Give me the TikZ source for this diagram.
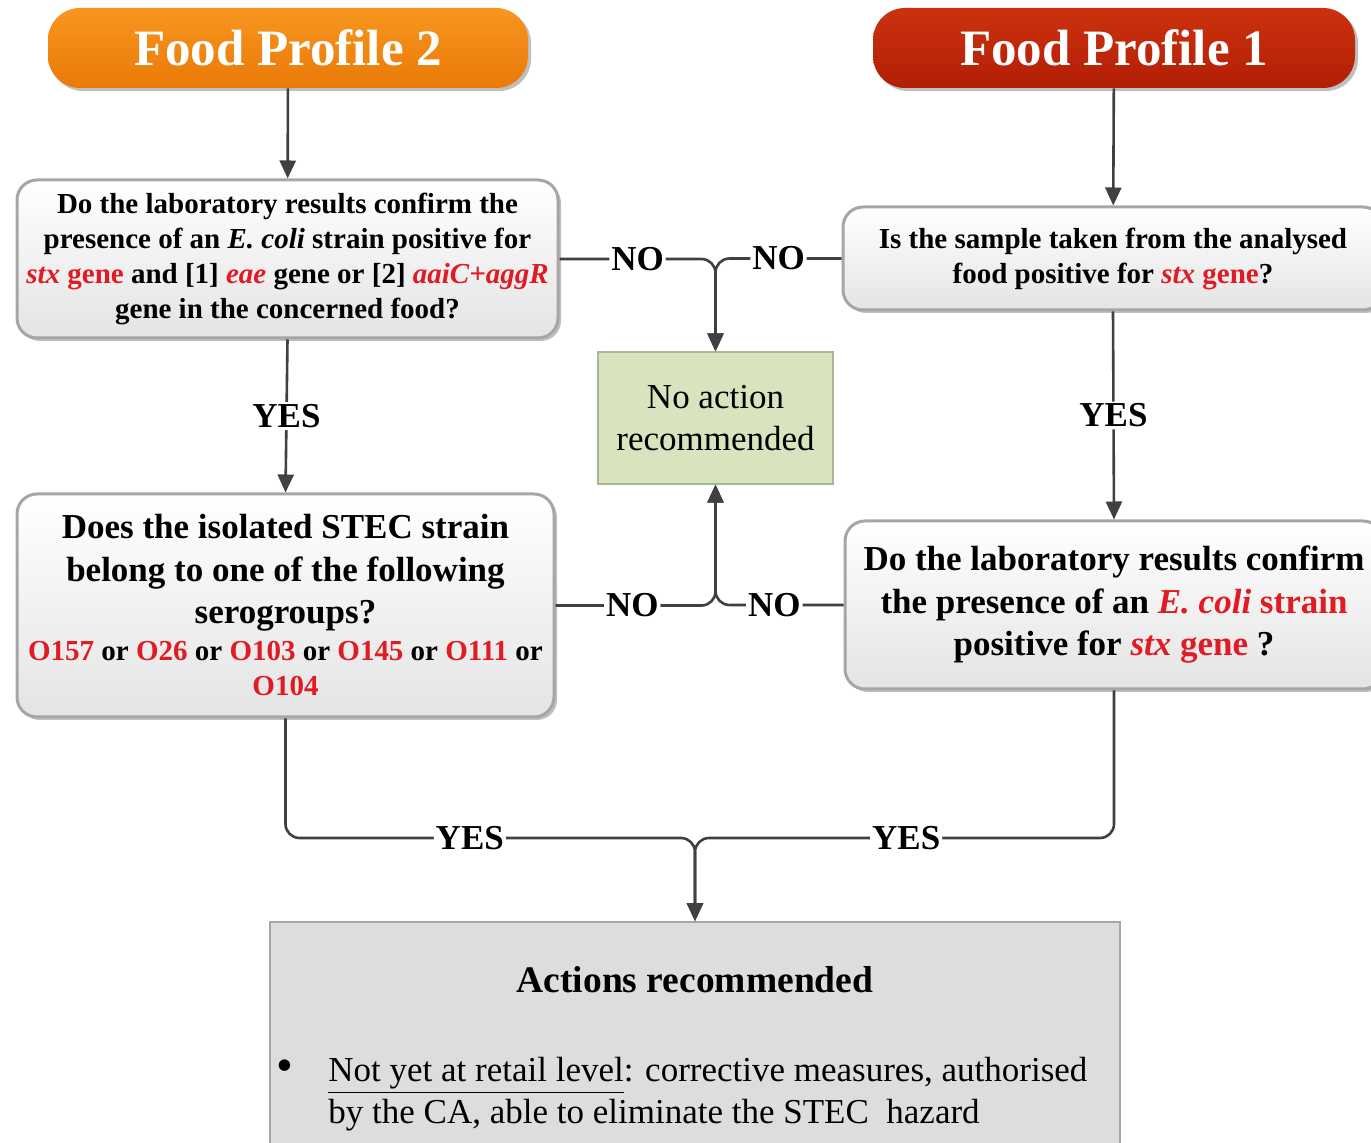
\documentclass[tikz,border=0pt]{standalone}
\usepackage{fontspec}
\setmainfont{Liberation Serif}
\usetikzlibrary{arrows.meta, shadows}

\definecolor{genered}{HTML}{E01B24}
\definecolor{linegray}{HTML}{404040}
\definecolor{boxgray}{HTML}{A6A6A6}
\definecolor{boxbottom}{HTML}{E4E4E4}
\definecolor{orangetop}{HTML}{F7961E}
\definecolor{orangebottom}{HTML}{EA7A08}
\definecolor{redtop}{HTML}{CC320E}
\definecolor{redbottom}{HTML}{B21E06}
\definecolor{noactfill}{HTML}{D8E4BD}
\definecolor{noactdraw}{HTML}{A8B894}
\definecolor{actfill}{HTML}{DDDDDD}

\newcommand{\redtxt}[1]{\textcolor{genered}{#1}}
\newcommand{\smallbf}{\fontsize{14.5}{17.5}\selectfont\bfseries}
\newcommand{\bigbf}{\fontsize{17.5}{21.25}\selectfont\bfseries}

\tikzset{
    softshadow/.style={drop shadow={shadow xshift=1.5pt, shadow yshift=-1.5pt, fill=black, opacity=0.25}},
    pill/.style={rounded corners=16pt, minimum height=40pt, text=white,
        font=\fontsize{25.5}{30}\selectfont\bfseries, softshadow},
    question/.style={draw=boxgray, line width=1.5pt, rounded corners=10pt,
        top color=white, bottom color=boxbottom, align=center, inner sep=0pt, softshadow},
    link/.style={draw=linegray, line width=1.3pt, rounded corners=7pt,
        -{Triangle[length=9pt, width=8pt]}},
    answer/.style={fill=white, inner sep=1pt, font=\bigbf},
}

\begin{document}
\begin{tikzpicture}[x=0.5pt, y=-0.5pt]
    \useasboundingbox (0,0) rectangle (1371,1143);
    \clip (0,0) rectangle (1371,1143);

    % --- Food profiles ---
    \node[pill, minimum width=240pt, top color=orangetop, bottom color=orangebottom] (fp2) at (288,48) {Food Profile 2};
    \node[pill, minimum width=241pt, top color=redtop, bottom color=redbottom] (fp1) at (1114,48) {Food Profile 1};
    % ---

    % --- Questions ---
    \node[question, minimum width=270.5pt, minimum height=79pt, font=\smallbf] (q2a) at (287.5,259)
        {Do the laboratory results confirm the\\
         presence of an \textit{E. coli} strain positive for\\
         \redtxt{\textit{stx} gene} and [1] \redtxt{\textit{eae}} gene or [2] \redtxt{\textit{aaiC+aggR}}\\
         gene in the concerned food?};
    \node[question, minimum width=270pt, minimum height=51.5pt, font=\smallbf] (q1a) at (1113,258.5)
        {Is the sample taken from the analysed\\
         food positive for \redtxt{\textit{stx} gene}?};
    \node[question, minimum width=268.5pt, minimum height=111.5pt, font=\bigbf] (q2b) at (285.5,605.5)
        {Does the isolated STEC strain\\
         belong to one of the following\\
         serogroups?\\[-3pt]
         \smallbf\redtxt{O157} or \redtxt{O26} or \redtxt{O103} or \redtxt{O145} or \redtxt{O111} or\\[-3.5pt]
         \smallbf\redtxt{O104}};
    \node[question, minimum width=269pt, minimum height=84pt, font=\bigbf] (q1b) at (1114,605)
        {Do the laboratory results confirm\\
         the presence of an \redtxt{\textit{E. coli} strain}\\
         positive for \redtxt{\textit{stx} gene} ?};
    % ---

    % --- Outcomes ---
    \node[draw=noactdraw, fill=noactfill, line width=0.6pt, minimum width=117.5pt, minimum height=66pt,
        align=center, font=\fontsize{17.5}{21}\selectfont] (noact) at (715.5,418)
        {No action\\ recommended};
    \node[draw=boxgray, fill=actfill, line width=0.8pt, minimum width=425pt, minimum height=140pt] (act) at (695,1062) {};
    \node[font=\fontsize{18.75}{22}\selectfont\bfseries] (acttitle) at (695,980) {Actions recommended};
    \node[font=\fontsize{24}{24}\selectfont] (actbullet) at (285,1071) {\textbullet};
    \node[anchor=north west, inner sep=0pt, align=left, font=\fontsize{17.5}{21}\selectfont] (actitem) at (328,1057)
        {\underline{Not yet at retail level}: corrective measures, authorised\\
         by the CA, able to eliminate the STEC\ \ hazard};
    % ---

    % --- Connectors ---
    \draw[link] (fp2) -- (q2a);
    \draw[link] (fp1) -- (q1a);
    \draw[link] (q2a.south) -- node[answer] {YES} (q2b.north);
    \draw[link] (q1a.south) -- node[answer] {YES} (q1b.north);
    \draw[link] (q2a.east) -| node[answer, pos=0.25] {NO} (noact.north);
    \draw[link] (q1a.west) -| node[answer, pos=0.25] {NO} (noact.north);
    \draw[link] (q2b.east) -| node[answer, pos=0.24] {NO} (noact.south);
    \draw[link] (q1b.west) -| node[answer, pos=0.27] {NO} (noact.south);
    \coordinate (yesjoin) at (695,838);
    \draw[link] (q2b.south) |- node[answer, pos=0.725] {YES} (yesjoin) -- (act.north);
    \draw[link] (q1b.south) |- node[answer, pos=0.748] {YES} (yesjoin) -- (act.north);
    % ---
\end{tikzpicture}
\end{document}
